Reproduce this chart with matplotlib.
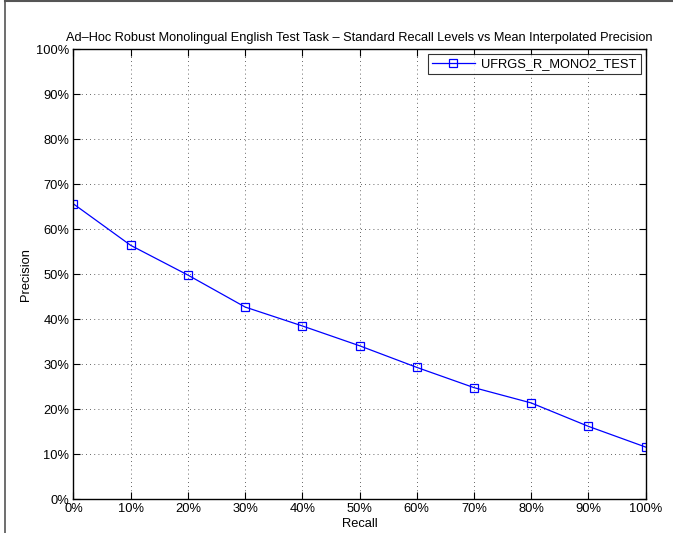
import matplotlib
matplotlib.use("Agg")
import matplotlib.pyplot as plt
from matplotlib.ticker import FuncFormatter
from matplotlib.lines import Line2D

recall = [0, 10, 20, 30, 40, 50, 60, 70, 80, 90, 100]
precision = [65.6, 56.4, 49.8, 42.7, 38.5, 34.1, 29.3, 24.8, 21.4, 16.2, 11.6]
series_name = "UFRGS_R_MONO2_TEST"
title = "Ad\u2013Hoc Robust Monolingual English Test Task \u2013 Standard Recall Levels vs Mean Interpolated Precision"

plt.rcParams["font.family"] = ["Liberation Sans", "DejaVu Sans"]

fig = plt.figure(figsize=(6.73, 5.33), dpi=100)
fig.patch.set_facecolor("white")
ax = fig.add_axes([0.1092, 0.0632, 0.8502, 0.8448])

ax.plot(recall, precision, color="#0000ff", linewidth=0.9, marker="s",
        markersize=5.5, markerfacecolor="none", markeredgecolor="#0000ff",
        markeredgewidth=0.9, label=series_name)

ax.set_xlim(0, 100)
ax.set_ylim(0, 100)
ax.set_xticks(range(0, 101, 10))
ax.set_yticks(range(0, 101, 10))
pct = FuncFormatter(lambda v, _: f"{v:.0f}%")
ax.xaxis.set_major_formatter(pct)
ax.yaxis.set_major_formatter(pct)
ax.tick_params(direction="in", length=5, width=0.8, top=True, right=True,
               labelsize=9.3, colors="black", pad=3)
ax.grid(True, linestyle=(0, (1, 4)), color="black", linewidth=0.6, alpha=0.8)
for s in ax.spines.values():
    s.set_linewidth(1.0)

ax.set_xlabel("Recall", fontsize=9.3, labelpad=2)
ax.set_ylabel("Precision", fontsize=9.3, labelpad=3)
ax.set_title(title, fontsize=9.2, pad=6)

leg = ax.legend(loc="upper right", fontsize=9.3, frameon=True, fancybox=False,
                edgecolor="black", borderaxespad=0.4, handlelength=3.3,
                handletextpad=0.5, borderpad=0.3)
leg.get_frame().set_linewidth(0.8)

# outer frame edges of the screenshot
fig.add_artist(Line2D([5 / 673, 5 / 673], [0, 1], color="#555555", linewidth=1.2,
                      transform=fig.transFigure))
fig.add_artist(Line2D([5 / 673, 1], [1 - 0.8 / 533, 1 - 0.8 / 533], color="#555555",
                      linewidth=1.5, transform=fig.transFigure))

fig.savefig("out.png", dpi=100)
